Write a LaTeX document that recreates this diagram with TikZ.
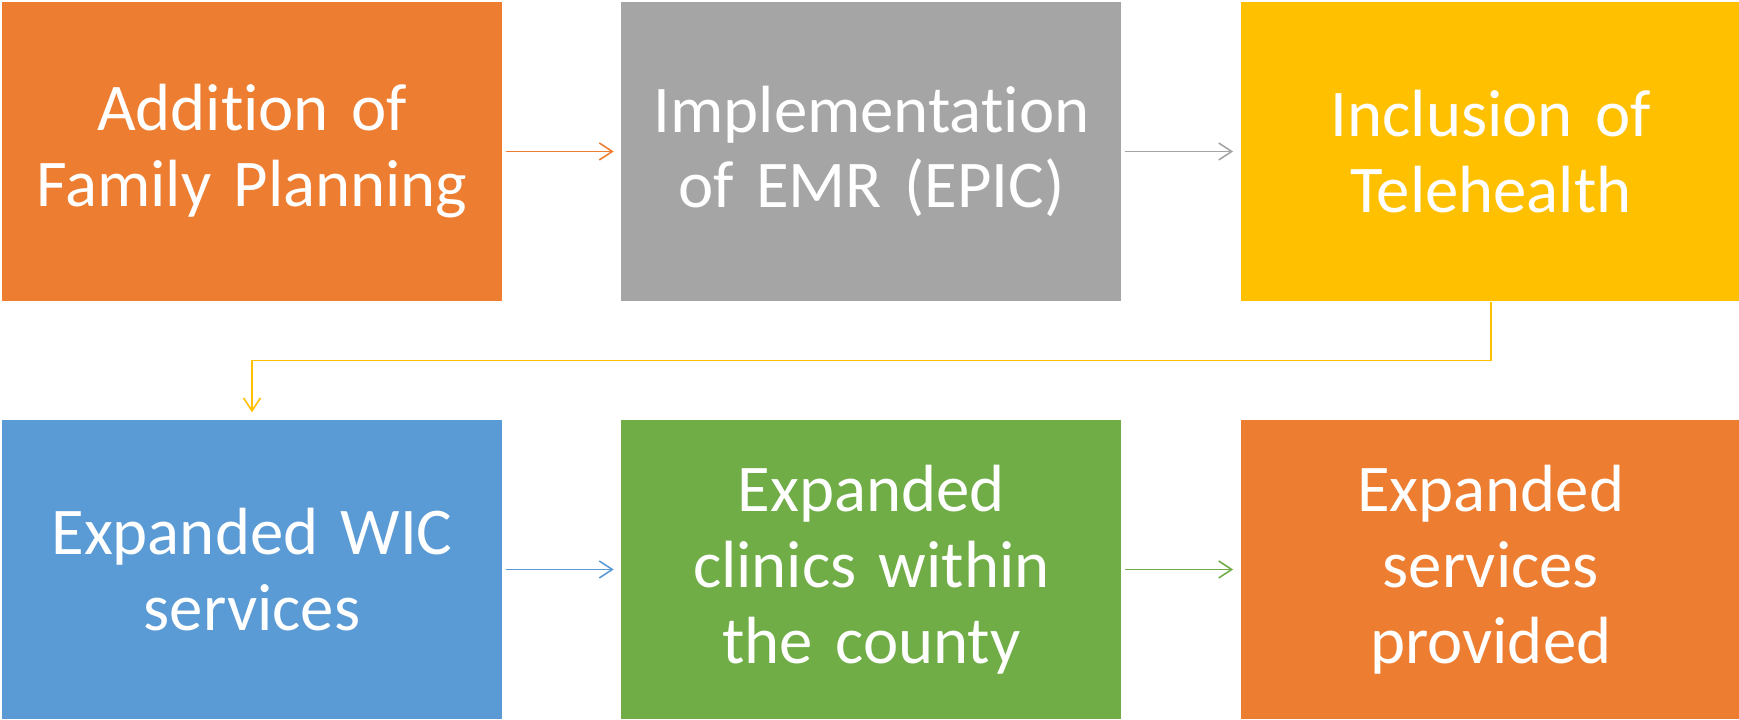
\documentclass[tikz,border=0pt]{standalone}
\usepackage{fontspec}
\setmainfont{Carlito}[Ligatures={NoCommon}]
\usetikzlibrary{positioning, arrows.meta}

\definecolor{offorange}{HTML}{ED7D31}
\definecolor{offgray}{HTML}{A5A5A5}
\definecolor{offyellow}{HTML}{FFC000}
\definecolor{offblue}{HTML}{5B9BD5}
\definecolor{offgreen}{HTML}{70AD47}

\tikzset{
    stepbox/.style={rectangle, fill=#1, minimum width=5cm, minimum height=2.99cm,
        inner sep=0pt, text=white, align=center, text width=4.8cm,
        font=\fontsize{19pt}{21.6pt}\selectfont},
    flow/.style={draw=#1, line width=0.45pt, -{Straight Barb[length=0.13cm, width=0.17cm]},
        shorten <=0.03cm, shorten >=0.07cm}
}

\begin{document}
\begin{tikzpicture}
    \useasboundingbox (0,0) rectangle (17.39,7.20);

    % first row
    \node[stepbox=offorange] (FAMILY) at (2.52,5.685) {Addition of\\Family Planning};
    \node[stepbox=offgray, right=1.18cm of FAMILY] (EMR) {Implementation\\of EMR (EPIC)};
    \node[stepbox=offyellow, right=1.18cm of EMR] (TELE) {Inclusion of\\Telehealth};

    % second row
    \node[stepbox=offblue] (WIC) at (2.52,1.505) {Expanded WIC\\services};
    \node[stepbox=offgreen, right=1.18cm of WIC] (CLINICS) {Expanded\\clinics within\\the county};
    \node[stepbox=offorange, right=1.18cm of CLINICS] (SERVICES) {Expanded\\services\\provided};

    % connections
    \draw[flow=offorange] (FAMILY) -- (EMR);
    \draw[flow=offgray] (EMR) -- (TELE);
    \draw[flow=offyellow, shorten <=0pt] (TELE.south) -- ++(0,-0.59) -| (WIC.north);
    \draw[flow=offblue] (WIC) -- (CLINICS);
    \draw[flow=offgreen] (CLINICS) -- (SERVICES);
\end{tikzpicture}
\end{document}
